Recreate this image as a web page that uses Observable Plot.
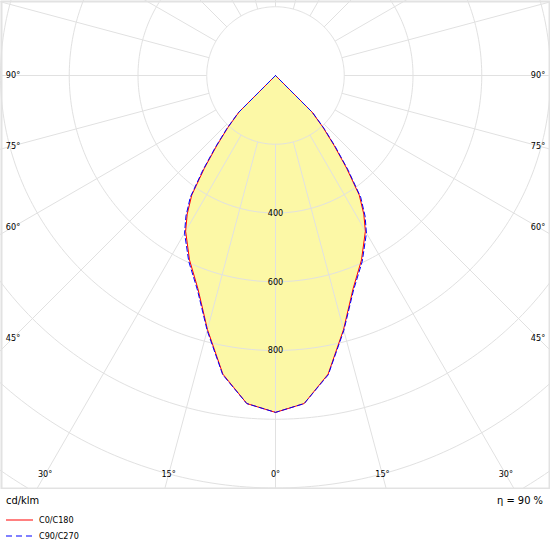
<!DOCTYPE html>
<html>
<head>
<meta charset="utf-8">
<script src="https://cdn.jsdelivr.net/npm/d3@7"></script>
<script src="https://cdn.jsdelivr.net/npm/@observablehq/plot@0.6"></script>
<style>
  html, body { margin: 0; padding: 0; background: #fff; }
  body { width: 550px; height: 550px; overflow: hidden; font-family: "DejaVu Sans Condensed", "Liberation Sans", sans-serif; color: #000; }
  #chart svg { display: block; }
  #foot { position: relative; width: 550px; height: 61px; }
  #unit { position: absolute; left: 6px; top: 5px; font-size: 11px; }
  #eta { position: absolute; right: 7px; top: 5px; font-size: 11px; }
  .leg { position: absolute; left: 6px; font-size: 9px; display: flex; align-items: center; }
  .leg svg { margin-right: 6px; }
</style>
</head>
<body>
<div id="chart"></div>
<div id="foot">
  <div id="unit"></div>
  <div id="eta"></div>
  <div class="leg" id="leg0" style="top:26px"></div>
  <div class="leg" id="leg1" style="top:42px"></div>
</div>
<script>
// ---- data (cd/klm) ----
const gammaAngles = [0, 5, 10, 15, 20, 25, 30, 32.5, 35, 37.5, 40, 42.5, 45, 50, 55, 60, 65, 70, 75, 80, 85, 90];
const c0c180  = [980, 958, 882, 765, 660, 592, 523, 478, 425, 340, 265, 205, 150, 0, 0, 0, 0, 0, 0, 0, 0, 0];
const c90c270 = [980, 958, 884, 768, 664, 597, 529, 485, 432, 347, 271, 209, 153, 0, 0, 0, 0, 0, 0, 0, 0, 0];
const ringValues = [200, 400, 600, 800, 1000, 1200, 1400];
const ringLabels = [400, 600, 800];
const spokeAngles = d3.range(0, 360, 15);
const angleTicks = [0, 15, 30, 45, 60, 75, 90];
const unitText = "cd/klm";
const etaText = "η = 90 %";
const seriesNames = ["C0/C180", "C90/C270"];

// ---- layout ----
const W = 550, H = 489;
const ppu = W / 1600;          // pixels per cd/klm
const cy = 75;                 // pole position from top (px)
const yTop = cy / ppu, yBottom = -(H - cy) / ppu;
const rad = d => d * Math.PI / 180;

// polar -> cartesian (gamma measured from nadir, side = +1 right / -1 left)
const pt = (g, r, side = 1) => ({x: side * r * Math.sin(rad(g)), y: -r * Math.cos(rad(g))});

const rings = ringValues.flatMap(r => d3.range(0, 361, 1).map(a => ({...pt(a, r), r})));
const spokes = spokeAngles.map(a => ({a, p1: pt(a, 200), p2: pt(a, 2000)}));

function curvePts(values) {
  const left = gammaAngles.map((g, i) => pt(g, values[i], -1)).reverse();
  const right = gammaAngles.map((g, i) => pt(g, values[i], 1));
  return [...left, ...right.slice(1)];
}
const fillPts = curvePts(c0c180);
const line0 = curvePts(c0c180);
const line1 = curvePts(c90c270);

// angle labels at an inset rectangle of the frame
const insetX = (W / 2 - 12.5) / ppu, insetY = (474 - cy) / ppu;
const tickLabels = angleTicks.flatMap(a => {
  const s = Math.sin(rad(a)), c = Math.cos(rad(a));
  const t = Math.min(s > 1e-9 ? insetX / s : Infinity, c > 1e-9 ? insetY / c : Infinity);
  const sides = a === 0 ? [1] : [-1, 1];
  return sides.map(side => ({...pt(a, t, side), label: `${a}°`}));
});

const gridColor = "#e1e1e1";
const chart = Plot.plot({
  width: W, height: H,
  margin: 0,
  style: {background: "#fff", fontFamily: "'DejaVu Sans Condensed', 'Liberation Sans', sans-serif"},
  x: {domain: [-800, 800], axis: null},
  y: {domain: [yBottom, yTop], axis: null},
  marks: [
    Plot.line(fillPts, {x: "x", y: "y", fill: "#fcf8a6", stroke: "none"}),
    Plot.line(rings, {x: "x", y: "y", z: "r", stroke: gridColor, strokeWidth: 1, clip: true}),
    Plot.link(spokes, {x1: d => d.p1.x, y1: d => d.p1.y, x2: d => d.p2.x, y2: d => d.p2.y, stroke: gridColor, strokeWidth: 1, clip: true}),
    Plot.line(line0, {x: "x", y: "y", stroke: "#ff0000", strokeWidth: 1}),
    Plot.line(line1, {x: "x", y: "y", stroke: "#0000ff", strokeWidth: 1, strokeDasharray: "5,3"}),
    Plot.text(ringLabels, {x: 0, y: d => -d, text: d => String(d), fontSize: 9, fill: "#000"}),
    Plot.text(tickLabels, {x: "x", y: "y", text: "label", fontSize: 9, fill: "#000"}),
    Plot.frame({stroke: "#e2e2e2", strokeWidth: 2, inset: 1})
  ]
});
document.getElementById("chart").append(chart);

document.getElementById("unit").textContent = unitText;
document.getElementById("eta").textContent = etaText;
const legStyles = [{color: "#ff8080", dash: null}, {color: "#8080ff", dash: "6,4"}];
seriesNames.forEach((name, i) => {
  const el = document.getElementById("leg" + i);
  const s = legStyles[i];
  el.innerHTML = `<svg width="27" height="4"><line x1="0" x2="27" y1="2" y2="2" stroke="${s.color}" stroke-width="2" ${s.dash ? `stroke-dasharray="${s.dash}"` : ""}/></svg><span></span>`;
  el.querySelector("span").textContent = name;
});
</script>
</body>
</html>
